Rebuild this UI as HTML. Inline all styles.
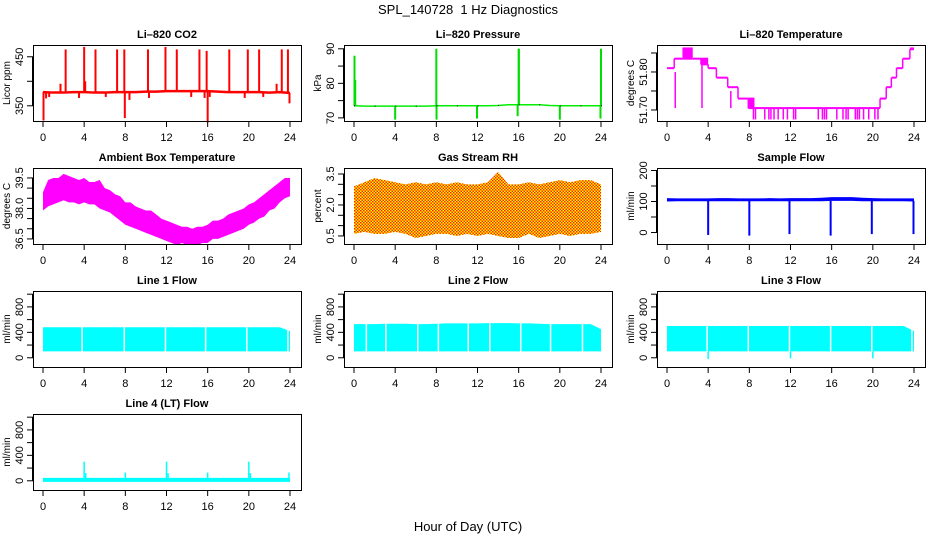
<!DOCTYPE html>
<html><head><meta charset="utf-8">
<style>
html,body{margin:0;padding:0;background:#fff;}
svg{display:block;font-family:"Liberation Sans",sans-serif;}
</style></head>
<body>
<svg id="chart" width="936" height="540" viewBox="0 0 936 540" xmlns="http://www.w3.org/2000/svg">
<defs>
<pattern id="rhpat" width="3" height="3" patternUnits="userSpaceOnUse">
<rect width="3" height="3" fill="#ffff00"/>
<rect x="0" y="0" width="1.5" height="1.5" fill="#ff2000"/>
<rect x="1.5" y="1.5" width="1.5" height="1.5" fill="#ff2000"/>
</pattern>
</defs>
<text x="468" y="14" font-size="13" text-anchor="middle" style="white-space:pre">SPL_140728  1 Hz Diagnostics</text>
<text x="468" y="531" font-size="13" text-anchor="middle">Hour of Day (UTC)</text>
</svg>
<script>
// ---- data ----
const hours = [0,1,2,3,4,5,6,7,8,9,10,11,12,13,14,15,16,17,18,19,20,21,22,23,24];
const xTicks = [0,4,8,12,16,20,24];

const co2Base = [378,377,377,378,378,377,377,378,378,378,379,379,380,380,380,380,380,379,378,378,378,378,377,378,376];
const co2SpikeT = [0.05,0.3,0.6,1.7,2.2,3.5,4.0,4.1,5.1,6.1,7.2,7.9,7.95,8.4,10.2,10.3,11.9,13.0,14.4,15.2,15.7,15.9,16.0,16.2,18.1,19.6,19.9,21.0,21.4,22.7,23.2,23.8,23.95];
const co2SpikeV = [320,365,368,395,465,366,470,400,465,368,465,465,325,362,465,366,470,465,368,465,366,462,316,368,465,366,465,465,368,395,465,465,355];

const presBase = [73.5,73.4,73.4,73.4,73.4,73.4,73.4,73.4,73.5,73.5,73.5,73.5,73.5,73.5,73.6,73.8,73.8,73.8,73.8,73.6,73.5,73.5,73.5,73.5,73.5];
const presSpikeT = [0.05,0.12,4.0,8.0,8.02,11.95,16.0,16.02,15.9,20.0,24.0,23.95];
const presSpikeV = [88,81,69.5,90,69.5,69.8,90,90,70.5,69.5,90,69.8];

const ltStepT = [0,0.7,1.5,2.5,3.3,4.0,4.8,5.9,6.9,7.9,8.5,20.7,21.3,21.8,22.3,22.9,23.6,24];
const ltStepLo = [51.81,51.835,51.835,51.835,51.82,51.81,51.785,51.76,51.73,51.705,51.705,51.73,51.76,51.785,51.81,51.835,51.86];
const ltStepHi = [51.81,51.835,51.862,51.835,51.835,51.81,51.785,51.76,51.73,51.73,51.705,51.73,51.76,51.785,51.81,51.835,51.862];
const ltSpikeT = [0.8,3.4,6.2,8.4,8.6,9.5,9.9,10.1,10.4,10.8,11.3,11.7,12.3,12.5,14.7,15.1,15.3,15.5,16.5,17.1,17.4,17.6,18.3,18.5,18.7,19.1,19.6,20.2,20.5];
const ltSpikeV = [51.80,51.825,51.75,51.675,51.675,51.675,51.675,51.675,51.675,51.675,51.675,51.675,51.675,51.675,51.675,51.675,51.675,51.675,51.675,51.675,51.675,51.675,51.675,51.675,51.675,51.675,51.675,51.675,51.675];

const ambT = [0,0.5,1,1.5,2,2.5,3,3.5,4,4.5,5,5.5,6,6.5,7,7.5,8,8.5,9,9.5,10,10.5,11,11.5,12,12.5,13,13.5,14,14.5,15,15.5,16,16.5,17,17.5,18,18.5,19,19.5,20,20.5,21,21.5,22,22.5,23,23.5,24];
const ambHi = [38.8,39.4,39.5,39.5,39.7,39.6,39.5,39.4,39.5,39.3,39.3,39.4,39.0,38.9,38.7,38.6,38.3,38.3,38.1,38.0,37.9,37.9,37.7,37.5,37.4,37.3,37.2,37.1,37.1,37.0,37.1,37.1,37.2,37.4,37.4,37.5,37.7,37.8,37.9,38.0,38.2,38.3,38.5,38.7,38.9,39.1,39.3,39.5,39.5];
const ambLo = [37.9,38.1,38.2,38.3,38.4,38.3,38.3,38.2,38.3,38.2,38.2,38.0,37.9,37.8,37.6,37.4,37.2,37.1,37.0,36.9,36.8,36.7,36.6,36.5,36.4,36.3,36.2,36.3,36.2,36.2,36.2,36.3,36.3,36.5,36.5,36.6,36.7,36.8,36.9,37.0,37.2,37.3,37.5,37.6,37.9,38.0,38.3,38.5,38.6];

const rhHi = [2.9,3.1,3.3,3.2,3.1,3.0,3.1,3.0,3.1,3.0,3.1,3.0,3.0,3.1,3.6,3.0,3.0,3.1,3.0,3.1,3.2,3.1,3.2,3.2,3.0];
const rhLo = [0.6,0.7,0.6,0.6,0.7,0.6,0.4,0.5,0.6,0.6,0.5,0.6,0.5,0.6,0.5,0.4,0.4,0.6,0.4,0.5,0.6,0.5,0.6,0.6,0.7];

const sfHi = [111,110,110,110,110,111,111,110,110,110,111,110,111,111,111,112,114,114,114,112,111,110,110,110,110];
const sfLo = [100,101,101,101,101,101,101,101,101,101,101,101,101,101,101,101,102,102,102,101,101,101,101,101,100];
const sfDipT = [4.0,8.0,11.9,15.9,19.9,23.95];
const sfDipV = [-8,-10,-5,-10,-5,-5];

const l1Hi = [480,480,480,480,480,480,480,480,480,480,480,480,480,480,480,480,480,480,480,480,480,480,480,480,420];
const l1Lo = [100,100,100,100,100,100,100,100,100,100,100,100,100,100,100,100,100,100,100,100,100,100,100,100,100];
const l1GapT = [3.8,7.9,11.9,15.8,19.8,23.8];

const l2Hi = [530,530,530,535,535,535,530,530,535,540,540,540,540,545,545,545,540,540,535,530,530,530,530,530,450];
const l2Lo = [100,100,100,100,100,100,100,100,100,100,100,100,100,100,100,100,100,100,100,100,100,100,100,100,100];
const l2GapT = [1.2,3.1,6.2,8.2,11.1,13.2,16.2,19.1,22.2];

const l3Hi = [500,500,500,500,500,500,500,500,500,500,500,500,500,500,500,500,500,500,500,500,500,500,500,500,420];
const l3Lo = [100,100,100,100,100,100,100,100,100,100,100,100,100,100,100,100,100,100,100,100,100,100,100,100,100];
const l3GapT = [3.9,7.9,11.9,15.9,19.9,23.8];
const l3DipT = [4.0,12.0,20.0];
const l3DipV = [-20,-10,-10];

const l4Base = [15,15,15,15,15,15,15,15,15,15,15,15,15,15,15,15,15,15,15,15,15,15,15,15,15];
const l4SpikeT = [4.0,4.15,8.0,12.0,12.15,16.0,20.0,20.15,23.9];
const l4SpikeV = [300,120,130,300,120,130,300,120,130];

// ---- layout ----
const NS = "http://www.w3.org/2000/svg";
const svg = document.getElementById('chart');
const colLeft = [33,344,657], rowTop = [45,168,291,414], W = 268, H = 76;

function mk(tag, attrs, parent) {
  const e = document.createElementNS(NS, tag);
  for (const k in attrs) e.setAttribute(k, attrs[k]);
  (parent || svg).appendChild(e);
  return e;
}

function panel(name, col, row, title, ylab, ymin, ymax, yTickVals, yLabelVals) {
  const L = colLeft[col], T = rowTop[row];
  const g = mk('g', {});
  
  
  const x = h => L + 10 + h * (W - 21) / 24;
  const y = v => T + H - (v - ymin) / (ymax - ymin) * H;
  const t = mk('text', {x: L + W / 2, y: T - 7, 'font-size': 11, 'font-weight': 'bold', 'text-anchor': 'middle'}, g);
  t.textContent = title;
  
  
  const yl = mk('text', {transform: `translate(${L - 23},${T + H / 2}) rotate(-90)`, 'font-size': 10, 'text-anchor': 'middle'}, g);
  yl.textContent = ylab;
  
  
  const plot = mk('g', {}, g);
  
  
  const ax = mk('g', {stroke: '#000', 'stroke-width': 1, fill: 'none'}, g);
  
  
  mk('line', {x1: x(0), x2: x(24), y1: T + H + 0.5, y2: T + H + 0.5}, ax);
  xTicks.forEach(h => {
    mk('line', {x1: x(h), x2: x(h), y1: T + H, y2: T + H + 6}, ax);
    const lt = mk('text', {x: x(h), y: T + H + 20, 'font-size': 11, 'text-anchor': 'middle'}, g);
    lt.textContent = h;
    
    
  });
  mk('line', {x1: L - 0.5, x2: L - 0.5, y1: y(yTickVals[0]), y2: y(yTickVals[yTickVals.length - 1])}, ax);
  yTickVals.forEach(v => {
    mk('line', {x1: L, x2: L - 6, y1: y(v), y2: y(v)}, ax);
  });
  yLabelVals.forEach(s => {
    const lt = mk('text', {transform: `translate(${L - 10},${y(parseFloat(s))}) rotate(-90)`, 'font-size': 11, 'text-anchor': 'middle'}, g);
    lt.textContent = s;
    
    
  });
  mk('rect', {x: L + 0.5, y: T + 0.5, width: W, height: H}, ax);
  return {x, y, g: plot};
}

function polyline(p, ts, vs, color, w) {
  const pts = ts.map((t, i) => p.x(t) + ',' + p.y(vs[i])).join(' ');
  return mk('polyline', {points: pts, fill: 'none', stroke: color, 'stroke-width': w}, p.g);
}
function band(p, ts, hi, lo, fill) {
  const pts = ts.map((t, i) => p.x(t) + ',' + p.y(hi[i]))
    .concat(ts.slice().reverse().map((t, j) => p.x(t) + ',' + p.y(lo[ts.length - 1 - j])));
  return mk('polygon', {points: pts.join(' '), fill: fill, stroke: 'none'}, p.g);
}
function spikes(p, ts, vs, base, color, w) {
  ts.forEach((t, i) => {
    const b = base(t);
    mk('line', {x1: p.x(t), x2: p.x(t), y1: p.y(b), y2: p.y(vs[i]), stroke: color, 'stroke-width': w}, p.g);
  });
}
function interp(ts, vs, t) {
  for (let i = 0; i < ts.length - 1; i++) if (t <= ts[i + 1]) {
    const f = (t - ts[i]) / (ts[i + 1] - ts[i]); return vs[i] + f * (vs[i + 1] - vs[i]);
  }
  return vs[vs.length - 1];
}

// CO2
let p = panel('co2', 0, 0, 'Li\u2013820 CO2', 'Licor ppm', 319, 474, [350,400,450], ['350','450']);
polyline(p, hours, co2Base, '#ff0000', 2.5);
spikes(p, co2SpikeT, co2SpikeV, t => interp(hours, co2Base, t), '#ff0000', 2);

// Pressure
p = panel('pressure', 1, 0, 'Li\u2013820 Pressure', 'kPa', 69.1, 91.1, [70,75,80,85,90], ['70','80','90']);
polyline(p, hours, presBase, '#00ee00', 1.5);
spikes(p, presSpikeT, presSpikeV, t => interp(hours, presBase, t), '#00dd00', 2);
hours.forEach((h, i) => { if (i % 2 === 0) mk('rect', {x: p.x(h), y: p.y(presBase[i]) - 0.5, width: 1, height: 1, fill: '#000'}, p.g); });

// Li-820 temperature
p = panel('li820-temp', 2, 0, 'Li\u2013820 Temperature', 'degrees C', 51.671, 51.871, [51.70,51.75,51.80,51.85], ['51.70','51.80']);
ltStepLo.forEach((lo, i) => {
  const x1 = p.x(ltStepT[i]), x2 = p.x(ltStepT[i + 1]);
  const yh = p.y(ltStepHi[i]), yl = p.y(lo);
  mk('rect', {x: x1, y: yh - 1, width: x2 - x1, height: yl - yh + 2, fill: '#ff00ff'}, p.g);
  if (i > 0) mk('line', {x1: x1, x2: x1, y1: p.y(ltStepLo[i - 1]), y2: yl, stroke: '#ff00ff', 'stroke-width': 1.5}, p.g);
});
spikes(p, ltSpikeT, ltSpikeV, t => 51.705, '#ff00ff', 1.5);

// Ambient
p = panel('ambient-temp', 0, 1, 'Ambient Box Temperature', 'degrees C', 36.25, 39.99, [36.5,37.0,37.5,38.0,38.5,39.0,39.5], ['36.5','38.0','39.5']);
band(p, ambT, ambHi, ambLo, '#ff00ff');

// RH
p = panel('gas-rh', 1, 1, 'Gas Stream RH', 'percent', 0.11, 3.79, [0.5,1.0,1.5,2.0,2.5,3.0,3.5], ['0.5','2.0','3.5']);
band(p, hours, rhHi, rhLo, 'url(#rhpat)');

// Sample flow
p = panel('sample-flow', 2, 1, 'Sample Flow', 'ml/min', -37, 208, [0,50,100,150,200], ['0','100','200']);
band(p, hours, sfHi, sfLo, '#0000ff');
spikes(p, sfDipT, sfDipV, t => 102, '#0000ff', 2);

// Line flows
function flowPanel(name, col, row, title, hi, lo, gaps) {
  const q = panel(name, col, row, title, 'ml/min', -145, 1050, [0,200,400,600,800,1000], ['0','400','800']);
  band(q, hours, hi, lo, '#00ffff');
  gaps.forEach(t => mk('line', {x1: q.x(t), x2: q.x(t), y1: q.y(interp(hours, hi, t)) - 1, y2: q.y(lo[0]) + 1, stroke: '#fff', 'stroke-width': 1.5}, q.g));
  return q;
}
flowPanel('line1-flow', 0, 2, 'Line 1 Flow', l1Hi, l1Lo, l1GapT);
flowPanel('line2-flow', 1, 2, 'Line 2 Flow', l2Hi, l2Lo, l2GapT);
p = flowPanel('line3-flow', 2, 2, 'Line 3 Flow', l3Hi, l3Lo, l3GapT);
spikes(p, l3DipT, l3DipV, t => 100, '#00ffff', 1.5);

p = panel('line4-flow', 0, 3, 'Line 4 (LT) Flow', 'ml/min', -145, 1050, [0,200,400,600,800,1000], ['0','400','800']);
polyline(p, hours, l4Base, '#00ffff', 4);
spikes(p, l4SpikeT, l4SpikeV, t => 15, '#00ffff', 1.5);
</script>
</body></html>
